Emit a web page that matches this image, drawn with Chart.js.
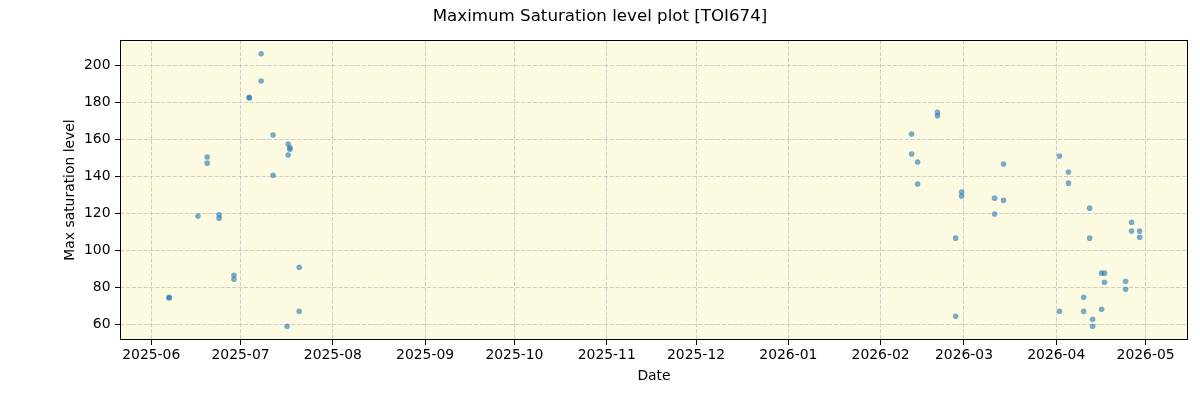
<!DOCTYPE html>
<html>
<head>
<meta charset="utf-8">
<script src="https://cdn.jsdelivr.net/npm/chart.js@4.4.1/dist/chart.umd.min.js"></script>
<style>
html,body{margin:0;padding:0;background:#ffffff;}
#wrap{width:1200px;height:400px;position:relative;}
</style>
</head>
<body>
<div id="wrap"><canvas id="c" width="1200" height="400"></canvas></div>
<script>
// ---- data ----
const obsTimes = [
  '2025-06-07T00:00','2025-06-07T00:00','2025-06-16T17:00','2025-06-19T19:00','2025-06-19T19:00',
  '2025-06-23T19:00','2025-06-23T19:00','2025-06-28T19:00','2025-06-28T19:00','2025-07-03T22:00',
  '2025-07-03T22:00','2025-07-07T22:00','2025-07-07T22:00','2025-07-11T22:00','2025-07-11T22:00',
  '2025-07-16T15:00','2025-07-17T00:00','2025-07-17T00:00','2025-07-17T14:00','2025-07-17T14:00',
  '2025-07-20T17:00','2025-07-20T17:00',
  '2026-02-11T10:00','2026-02-11T10:00','2026-02-13T10:00','2026-02-13T10:00','2026-02-20T02:00',
  '2026-02-20T02:00','2026-02-26T05:00','2026-02-26T05:00','2026-02-28T05:00','2026-02-28T05:00',
  '2026-03-11T07:00','2026-03-11T07:00','2026-03-14T07:00','2026-03-14T07:00','2026-04-02T02:00',
  '2026-04-02T02:00','2026-04-05T02:00','2026-04-05T02:00','2026-04-10T05:00','2026-04-10T05:00',
  '2026-04-12T05:00','2026-04-12T05:00','2026-04-13T05:00','2026-04-13T05:00','2026-04-16T05:00',
  '2026-04-16T05:00','2026-04-17T05:00','2026-04-17T05:00','2026-04-24T07:00','2026-04-24T07:00',
  '2026-04-26T07:00','2026-04-26T07:00','2026-04-29T00:00','2026-04-29T00:00'
];
const maxSat = [
  74.6, 74.2, 118.4, 150.3, 147.0,
  119.1, 117.3, 86.5, 84.3, 182.6,
  182.2, 206.1, 191.4, 162.2, 140.5,
  58.9, 157.3, 151.4, 155.3, 154.5,
  90.8, 67.0,
  162.7, 151.9, 147.6, 135.7, 174.4,
  172.6, 106.5, 64.3, 131.4, 129.2,
  128.1, 119.5, 146.5, 127.0, 150.8,
  67.0, 142.2, 136.2, 74.6, 67.0,
  122.7, 106.5, 62.7, 58.9, 87.6,
  68.1, 87.6, 82.7, 83.2, 78.9,
  115.1, 110.3, 110.3, 107.0
];
const xTickLabels = ['2025-06','2025-07','2025-08','2025-09','2025-10','2025-11','2025-12',
                     '2026-01','2026-02','2026-03','2026-04','2026-05'];
const yTickValues = [60, 80, 100, 120, 140, 160, 180, 200];
const chartTitle = 'Maximum Saturation level plot [TOI674]';
const xTitle = 'Date';
const yTitle = 'Max saturation level';

// ---- helpers ----
const toMs = s => Date.parse(s + ':00Z');
const monthMs = lab => Date.parse(lab + '-01T00:00:00Z');
const points = obsTimes.map((t, i) => ({ x: toMs(t), y: maxSat[i] }));
const xTickValues = xTickLabels.map(monthMs);

const FONT = 'DejaVu Sans';
const BG = 'rgb(252,251,225)';
const GRID = 'rgba(190,190,196,0.75)';

const framePlugin = {
  id: 'frame',
  beforeDraw(chart) {
    const { ctx, chartArea: a } = chart;
    ctx.save();
    ctx.fillStyle = BG;
    ctx.fillRect(a.left, a.top, a.right - a.left, a.bottom - a.top);
    ctx.restore();
  },
  afterDraw(chart) {
    const { ctx, chartArea: a } = chart;
    ctx.save();
    ctx.strokeStyle = '#000';
    ctx.lineWidth = 1;
    ctx.strokeRect(Math.round(a.left) + 0.5, Math.round(a.top) + 0.5,
                   Math.round(a.right - a.left) - 1, Math.round(a.bottom - a.top) - 1);
    // figure title, centred on the whole figure
    ctx.fillStyle = '#000';
    ctx.font = '16.67px "' + FONT + '"';
    ctx.textAlign = 'center';
    ctx.textBaseline = 'middle';
    ctx.fillText(chartTitle, chart.width / 2, 16.5);
    ctx.restore();
  }
};

new Chart(document.getElementById('c'), {
  type: 'scatter',
  data: {
    datasets: [{
      data: points,
      backgroundColor: 'rgba(31,119,180,0.6)',
      borderWidth: 0,
      pointRadius: 2.8,
      pointHoverRadius: 2.8
    }]
  },
  plugins: [framePlugin],
  options: {
    responsive: false,
    animation: false,
    devicePixelRatio: 1,
    layout: { padding: { left: 0, right: 12, top: 40, bottom: 0 } },
    plugins: {
      legend: { display: false },
      tooltip: { enabled: false },
      title: { display: false }
    },
    scales: {
      x: {
        type: 'linear',
        min: Date.parse('2025-05-21T12:14:00Z'),
        max: Date.parse('2026-05-15T06:00:00Z'),
        afterBuildTicks: s => { s.ticks = xTickValues.map(v => ({ value: v })); },
        afterFit: s => { s.height = 60; },
        ticks: {
          autoSkip: false,
          maxRotation: 0,
          color: '#000',
          padding: 2.5,
          font: { family: FONT, size: 13.9 },
          callback: (v, i) => xTickLabels[i]
        },
        grid: {
          color: GRID,
          lineWidth: 1,
          drawTicks: true,
          tickLength: 5,
          tickColor: '#000',
          tickWidth: 1,
          tickBorderDash: []
        },
        border: { display: false, dash: [4.1, 1.8] },
        title: {
          display: true,
          text: xTitle,
          color: '#000',
          font: { family: FONT, size: 13.9 },
          padding: { top: 0, bottom: 15 }
        }
      },
      y: {
        type: 'linear',
        min: 51.5,
        max: 213.5,
        afterBuildTicks: s => { s.ticks = yTickValues.map(v => ({ value: v })); },
        afterFit: s => { s.width = 120; },
        ticks: {
          color: '#000',
          padding: 4.5,
          font: { family: FONT, size: 13.9 }
        },
        grid: {
          color: GRID,
          lineWidth: 1,
          drawTicks: true,
          tickLength: 5,
          tickColor: '#000',
          tickWidth: 1,
          tickBorderDash: []
        },
        border: { display: false, dash: [4.1, 1.8] },
        title: {
          display: true,
          text: yTitle,
          color: '#000',
          font: { family: FONT, size: 13.9 },
          padding: { top: 62, bottom: 0 }
        }
      }
    }
  }
});
</script>
</body>
</html>
